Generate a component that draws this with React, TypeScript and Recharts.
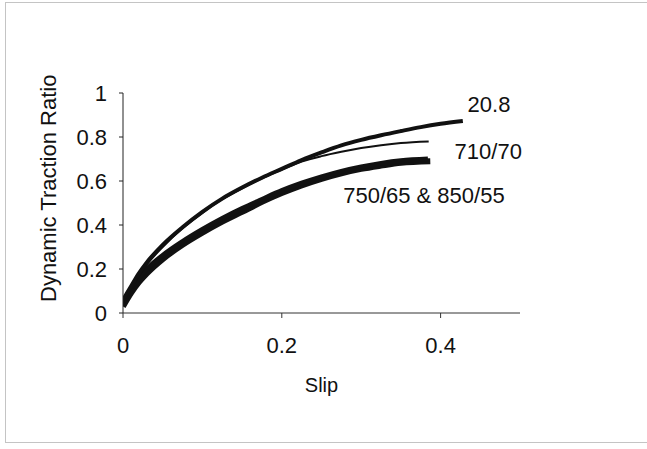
import React from "react";
import { LineChart, Line, XAxis, YAxis, ReferenceDot } from "recharts";

const slip208 = [0, 0.01, 0.02, 0.03, 0.05, 0.075, 0.1, 0.125, 0.15, 0.175, 0.2, 0.225, 0.25, 0.275, 0.3, 0.325, 0.35, 0.375, 0.4, 0.428];
const ratio208 = [0.06, 0.12, 0.18, 0.23, 0.31, 0.39, 0.46, 0.52, 0.57, 0.615, 0.655, 0.695, 0.73, 0.762, 0.787, 0.808, 0.827, 0.845, 0.86, 0.873];

const slip710 = [0, 0.01, 0.02, 0.03, 0.05, 0.075, 0.1, 0.125, 0.15, 0.175, 0.2, 0.225, 0.25, 0.275, 0.3, 0.325, 0.35, 0.385];
const ratio710 = [0.05, 0.11, 0.17, 0.22, 0.3, 0.385, 0.455, 0.517, 0.567, 0.612, 0.652, 0.688, 0.713, 0.733, 0.75, 0.763, 0.773, 0.78];

const slip750 = [0, 0.01, 0.02, 0.03, 0.05, 0.075, 0.1, 0.125, 0.15, 0.175, 0.2, 0.225, 0.25, 0.275, 0.3, 0.325, 0.35, 0.387];
const ratio750 = [0.03, 0.09, 0.14, 0.18, 0.245, 0.31, 0.365, 0.415, 0.46, 0.505, 0.545, 0.58, 0.61, 0.635, 0.655, 0.67, 0.683, 0.69];

const slip850 = [0, 0.01, 0.02, 0.03, 0.05, 0.075, 0.1, 0.125, 0.15, 0.175, 0.2, 0.225, 0.25, 0.275, 0.3, 0.325, 0.35, 0.384];
const ratio850 = [0.05, 0.11, 0.16, 0.2, 0.262, 0.325, 0.38, 0.43, 0.475, 0.516, 0.556, 0.59, 0.619, 0.644, 0.664, 0.68, 0.692, 0.7];

const xTicks = [0, 0.2, 0.4];
const yTicks = [0, 0.2, 0.4, 0.6, 0.8, 1];

const seriesLabels = [
  { text: "20.8", x: 0.461, y: 0.95 },
  { text: "710/70", x: 0.46, y: 0.736 },
  { text: "750/65 & 850/55", x: 0.379, y: 0.536 },
];

const toPoints = (xs: number[], ys: number[]) => xs.map((x, i) => ({ x, y: ys[i] }));

const FONT = "'Liberation Sans', Arial, sans-serif";
const TOP = 60; // page y where the svg starts

// y label sits at a fixed place, bottom of "D" near page y 302
function YLabel() {
  const y = 302 - TOP;
  return (
    <text
      x={56}
      y={y}
      transform={`rotate(-90 56 ${y})`}
      textAnchor="start"
      fontSize={22}
      fontFamily={FONT}
      fill="#111"
    >
      Dynamic Traction Ratio
    </text>
  );
}

export default function App() {
  const tickStyle = { fontSize: 22, fill: "#111", fontFamily: FONT };
  return (
    <div style={{ position: "absolute", left: 0, top: 0, width: 647, height: 449, background: "#fff" }}>
      <div
        style={{
          position: "absolute", left: 5, top: 2, width: 642, height: 439,
          borderLeft: "1px solid #c4c4c4", borderTop: "1px solid #c4c4c4", borderBottom: "1px solid #c4c4c4",
        }}
      />
      <div style={{ position: "absolute", left: 0, top: TOP }}>
        <LineChart width={647} height={449 - TOP} margin={{ top: 93 - TOP, right: 127, left: 0, bottom: 0 }}>
          <XAxis
            type="number"
            dataKey="x"
            domain={[0, 0.5]}
            ticks={xTicks}
            tickFormatter={(v) => String(v)}
            height={136}
            tickSize={5}
            tickMargin={19}
            tick={tickStyle}
            stroke="#333"
            allowDataOverflow
            label={{ value: "Slip", position: "insideBottom", offset: 57, fontSize: 20, fill: "#111", fontFamily: FONT }}
          />
          <XAxis xAxisId="top" orientation="top" type="number" domain={[0, 0.5]} height={0} tick={false} tickLine={false} stroke="#999" />
          <YAxis
            type="number"
            domain={[0, 1]}
            ticks={yTicks}
            tickFormatter={(v) => String(v)}
            width={123}
            tickSize={4}
            tickMargin={12}
            tick={tickStyle}
            stroke="#222"
            label={<YLabel />}
          />
          <YAxis yAxisId="right" orientation="right" type="number" domain={[0, 1]} width={0} tick={false} tickLine={false} stroke="#999" />
          <Line data={toPoints(slip750, ratio750)} dataKey="y" type="monotone" stroke="#111" strokeWidth={6} dot={false} isAnimationActive={false} />
          <Line data={toPoints(slip850, ratio850)} dataKey="y" type="monotone" stroke="#111" strokeWidth={5} dot={false} isAnimationActive={false} />
          <Line data={toPoints(slip710, ratio710)} dataKey="y" type="monotone" stroke="#111" strokeWidth={2} dot={false} isAnimationActive={false} />
          <Line data={toPoints(slip208, ratio208)} dataKey="y" type="monotone" stroke="#111" strokeWidth={4} dot={false} isAnimationActive={false} />
          {seriesLabels.map((l) => (
            <ReferenceDot
              key={l.text}
              x={l.x}
              y={l.y}
              r={0}
              fill="none"
              stroke="none"
              label={{ value: l.text, position: "center", fontSize: 22, fill: "#111", fontFamily: FONT }}
            />
          ))}
        </LineChart>
      </div>
    </div>
  );
}
